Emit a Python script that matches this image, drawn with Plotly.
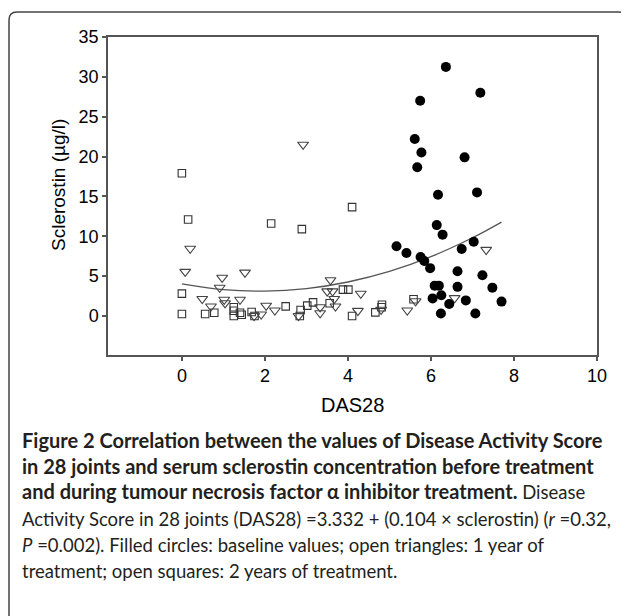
import plotly.graph_objects as go

# ---- data ----
base_x = [6.36, 7.19, 5.74, 5.61, 5.77, 5.67, 6.81, 6.17, 7.11, 6.14, 6.28, 5.17, 5.41, 5.75,
          5.84, 5.98, 6.74, 7.03, 6.64, 7.24, 6.09, 6.19, 6.64, 7.48, 6.04, 6.25, 6.44, 6.84,
          7.70, 6.24, 7.07]
base_y = [31.25, 28.0, 27.0, 22.2, 20.5, 18.65, 19.9, 15.2, 15.5, 11.4, 10.2, 8.75, 7.9, 7.4,
          6.9, 6.0, 8.4, 9.3, 5.6, 5.1, 3.8, 3.8, 3.65, 3.55, 2.2, 2.6, 1.5, 1.95,
          1.8, 0.3, 0.3]

yr1_x = [2.92, 0.20, 0.08, 0.97, 1.52, 0.91, 0.49, 0.70, 1.02, 1.04, 1.40, 2.03, 2.24, 1.91,
         1.74, 2.81, 3.33, 3.33, 3.58, 3.50, 3.63, 3.67, 3.70, 4.31, 4.24, 4.80, 5.43, 5.63,
         6.57, 7.33]
yr1_y = [21.5, 8.45, 5.55, 4.8, 5.45, 3.55, 2.15, 1.2, 2.05, 1.6, 2.05, 1.3, 0.7, 0.2,
         0.0, 0.0, 0.35, 1.1, 4.5, 3.1, 3.1, 2.15, 1.2, 2.8, 0.65, 0.8, 0.7, 1.85,
         2.25, 8.3]

yr2_x = [0.0, 0.15, 2.15, 2.89, 4.10, 0.0, 0.0, 0.56, 0.78, 1.25, 1.25, 1.25, 1.40, 1.44,
         1.68, 1.75, 2.50, 2.86, 2.84, 3.02, 3.16, 3.56, 3.88, 4.01, 4.10, 4.66, 4.81, 4.82,
         5.58]
yr2_y = [17.9, 12.1, 11.6, 10.9, 13.65, 2.8, 0.25, 0.25, 0.4, 1.1, 0.65, 0.0, 0.4, 0.15,
         0.5, 0.0, 1.2, 0.75, 0.0, 1.3, 1.7, 1.6, 3.3, 3.3, 0.0, 0.45, 1.1, 1.4,
         2.1]

fit_x = [0, 1, 2, 3, 4, 5, 6, 7, 7.7]
fit_y = [4.03, 3.31, 3.11, 3.43, 4.26, 5.58, 7.44, 9.81, 11.78]

x_ticks = [0, 2, 4, 6, 8, 10]
y_ticks = [0, 5, 10, 15, 20, 25, 30, 35]

BOLD = '<span style="font-size:20px"><b>{}</b></span>'
caption_lines = [
    BOLD.format("Figure 2 Correlation between the values of Disease Activity Score"),
    BOLD.format("in 28 joints and serum sclerostin concentration before treatment"),
    BOLD.format("and during tumour necrosis factor α inhibitor treatment.") + " Disease",
    "Activity Score in 28 joints (DAS28) =3.332 + (0.104 × sclerostin) (<i>r</i> =0.32,",
    "<i>P</i> =0.002). Filled circles: baseline values; open triangles: 1 year of",
    "treatment; open squares: 2 years of treatment.",
]

# ---- layout geometry (page has an 8px body margin, so shift by 8) ----
OFF = 8
W, H = 629 - OFF, 616 - OFF
L, T = 108 - OFF, 37 - OFF
R = W - (597 - OFF)
B = H - (355 - OFF)
PW, PH = W - L - R, H - T - B


def px(x):
    return (x - OFF - L) / PW


def py(y):
    return (H - B - (y - OFF)) / PH


fig = go.Figure()
fig.add_trace(go.Scatter(x=fit_x, y=fit_y, mode="lines", line=dict(color="#555", width=1.3, shape="spline"),
                         hoverinfo="skip", showlegend=False))
fig.add_trace(go.Scatter(x=yr2_x, y=yr2_y, mode="markers",
                         marker=dict(symbol="square-open", size=7.5, color="#333", line=dict(width=1.1)),
                         showlegend=False))
fig.add_trace(go.Scatter(x=yr1_x, y=yr1_y, mode="markers",
                         marker=dict(symbol="triangle-down-open", size=9.5, color="#444", line=dict(width=1.1)),
                         showlegend=False))
fig.add_trace(go.Scatter(x=base_x, y=base_y, mode="markers",
                         marker=dict(symbol="circle", size=10, color="black", line=dict(width=0)),
                         showlegend=False))

tick_font = dict(family="Liberation Sans, Arial, sans-serif", size=18, color="black")
title_font = dict(family="Liberation Sans, Arial, sans-serif", size=19, color="black")
fig.update_xaxes(range=[-1.78, 10], tickvals=x_ticks, ticks="outside", ticklen=4, tickcolor="#555",
                 tickwidth=1.5, showline=True, linecolor="#555", linewidth=1.5, mirror=True,
                 showgrid=False, zeroline=False, tickfont=tick_font)
fig.update_yaxes(range=[-4.9, 35], tickvals=y_ticks, ticks="outside", ticklen=4, tickcolor="#555",
                 tickwidth=1.5, showline=True, linecolor="#555", linewidth=1.5, mirror=True,
                 showgrid=False, zeroline=False, tickfont=tick_font)

annotations = [
    dict(text="DAS28", x=0.5, y=py(405), xref="paper", yref="paper", showarrow=False,
         font=dict(family="Liberation Sans, Arial, sans-serif", size=20, color="black"),
         xanchor="center", yanchor="middle"),
    dict(text="Sclerostin (µg/l)", x=px(58), y=py(185), xref="paper", yref="paper", showarrow=False,
         font=title_font, textangle=-90, xanchor="center", yanchor="middle"),
]
cap_y = [440, 466, 491, 519, 545, 571]
for line, yy in zip(caption_lines, cap_y):
    annotations.append(dict(text=line, x=px(20), y=py(yy), xref="paper", yref="paper", showarrow=False,
                            xanchor="left", yanchor="middle", align="left",
                            font=dict(family="Lato, Open Sans, sans-serif", size=18.5, color="#231f20")))

# outer rounded border (reference pixel coordinates)
x0, x1, y0, y1, r = 9, 627, 12, 640, 8
path = (f"M {px(x0)},{py(y1)} L {px(x0)},{py(y0 + r)} Q {px(x0)},{py(y0)} {px(x0 + r)},{py(y0)} "
        f"L {px(x1 - r)},{py(y0)} Q {px(x1)},{py(y0)} {px(x1)},{py(y0 + r)} L {px(x1)},{py(y1)}")

fig.update_layout(
    width=W, height=H, margin=dict(l=L, r=R, t=T, b=B),
    paper_bgcolor="white", plot_bgcolor="white",
    annotations=annotations,
    shapes=[dict(type="path", path=path, xref="paper", yref="paper", line=dict(color="#444", width=1.5))],
)

fig.write_html("out.html")
